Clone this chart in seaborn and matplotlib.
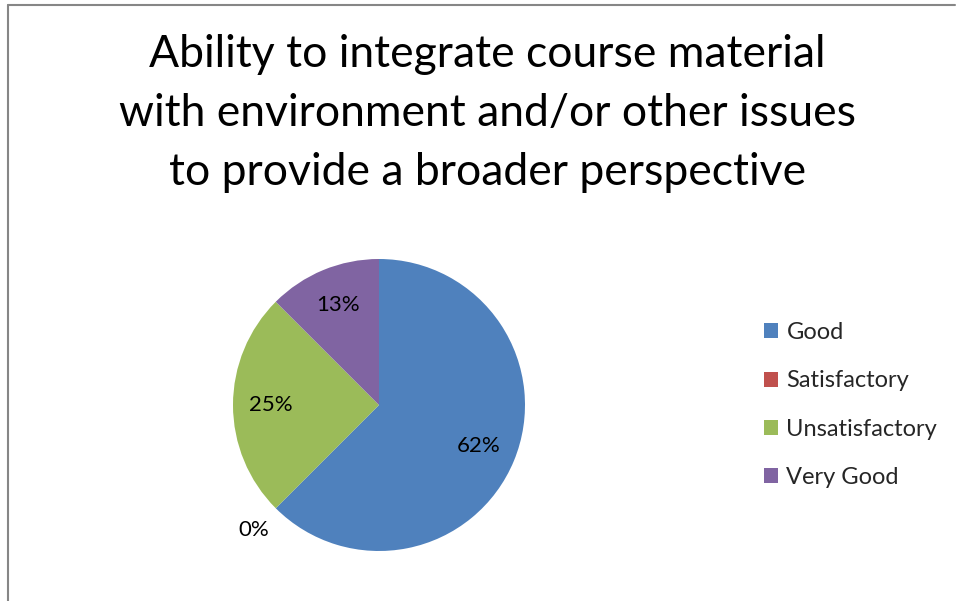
"""Pie chart: ability to integrate course material."""
import numpy as np
import matplotlib.pyplot as plt
import seaborn as sns
from matplotlib.patches import Patch
from matplotlib.lines import Line2D

categories = ['Good', 'Satisfactory', 'Unsatisfactory', 'Very Good']
shares = [62.5, 0.0, 25.0, 12.5]
pct_labels = ['62%', '0%', '25%', '13%']
colors = ['#4F81BD', '#C0504D', '#9BBB59', '#8064A2']
title = ('Ability to integrate course material\n'
         'with environment and/or other issues\n'
         'to provide a broader perspective')

sns.set_theme(style='white')
plt.rcParams['font.family'] = ['Lato', 'DejaVu Sans']
palette = sns.color_palette(colors)

W, H = 956, 601
fig = plt.figure(figsize=(W / 100, H / 100), dpi=100)

# pie axes: centre (379, 405) px, radius 146 px
cx, cy, r = 379, 405, 146
ax = fig.add_axes([(cx - r) / W, (H - cy - r) / H, 2 * r / W, 2 * r / H])
wedges, _ = ax.pie(shares, colors=palette, startangle=90, counterclock=False,
                   radius=1.0, wedgeprops=dict(linewidth=0))
ax.set_xlim(-1, 1)
ax.set_ylim(-1, 1)
ax.set_aspect('equal')
ax.axis('off')

for w, lab in zip(wedges, pct_labels):
    ang = np.deg2rad((w.theta1 + w.theta2) / 2)
    dist = 0.74 if w.theta2 - w.theta1 > 0.01 else 1.21
    ax.text(dist * np.cos(ang), dist * np.sin(ang), lab,
            ha='center', va='center', fontsize=16, color='black')

fig.text(0.51, 1 - 34 / H, title, ha='center', va='top', fontsize=32,
         linespacing=1.55, color='black')

handles = [Patch(facecolor=c, edgecolor='none') for c in palette]
fig.legend(handles, categories, loc='center left',
           bbox_to_anchor=(764 / W, 1 - 405 / H), frameon=False,
           borderpad=0, borderaxespad=0,
           fontsize=17, handlelength=0.6, handleheight=0.6,
           handletextpad=0.35, labelspacing=1.15)

# chart border (left and top only visible)
fig.add_artist(Line2D([7.5 / W, 7.5 / W], [0, 1 - 5 / H],
                      transform=fig.transFigure, color='#868686', lw=1.5))
fig.add_artist(Line2D([7.5 / W, 955 / W], [1 - 5 / H, 1 - 5 / H],
                      transform=fig.transFigure, color='#868686', lw=1.5))

fig.savefig('out.png', dpi=100, facecolor='white')
plt.close(fig)
